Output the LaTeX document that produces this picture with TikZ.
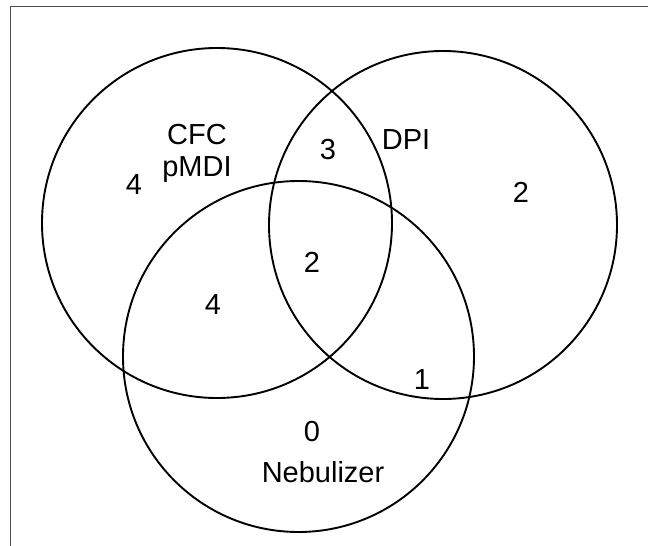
\documentclass[tikz,border=0pt]{standalone}
\usepackage{fontspec}
\setmainfont{Liberation Sans}
\begin{document}
\begin{tikzpicture}[x=1pt,y=-1pt,
  venn/.style={draw=black,line width=1.9pt},
  lbl/.style={font=\fontsize{29}{33}\selectfont,inner sep=0pt,anchor=center},
  frame/.style={draw=black!70,line width=1.5pt}]
\useasboundingbox (0,0) rectangle (648,546);
\coordinate (fa) at (10.5,546);
\coordinate (fb) at (10.5,6.5);
\coordinate (fc) at (648,6.5);
\draw[frame] (fa) -- (fb) -- (fc);
\node[venn,circle,minimum size=350pt,inner sep=0pt] (cfc) at (217,223) {};
\node[venn,circle,minimum size=348pt,inner sep=0pt] (dpi) at (443,225) {};
\node[venn,circle,minimum size=351pt,inner sep=0pt] (neb) at (298.5,356.5) {};
\node[lbl] (t1) at (197,135) {CFC};
\node[lbl] (t2) at (197,170) {pMDI};
\node[lbl] (t3) at (406,140) {DPI};
\node[lbl] (n1) at (134,185) {4};
\node[lbl] (n2) at (328,150) {3};
\node[lbl] (n3) at (521,192) {2};
\node[lbl] (n4) at (312,262) {2};
\node[lbl] (n5) at (213,305) {4};
\node[lbl] (n6) at (422,380) {1};
\node[lbl] (n7) at (312,432) {0};
\node[lbl] (t4) at (323,472) {Nebulizer};
\end{tikzpicture}
\end{document}
